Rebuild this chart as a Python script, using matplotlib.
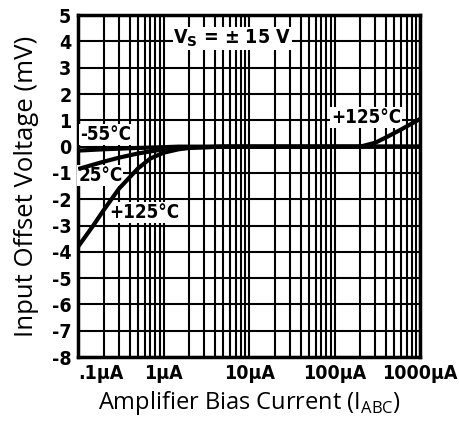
import numpy as np
import matplotlib.pyplot as plt
from matplotlib.ticker import LogLocator, NullFormatter

# data
cur_m55 = [0.1, 0.2, 0.5, 1, 1.5, 3, 1000]
vos_m55 = [-0.15, -0.1, -0.05, -0.02, 0, 0, 0]

cur_25 = [0.1, 0.2, 0.3, 0.5, 1, 2, 5, 1000]
vos_25 = [-0.85, -0.57, -0.42, -0.26, -0.1, -0.03, 0, 0]

cur_125 = [0.1, 0.15, 0.2, 0.3, 0.5, 0.7, 1, 1.5, 2, 5, 100, 200, 300, 400, 600, 1000]
vos_125 = [-3.8, -3.0, -2.4, -1.6, -0.83, -0.45, -0.23, -0.1, -0.05, 0, 0, 0, 0.15, 0.35, 0.65, 1.05]

xticks = [0.1, 1, 10, 100, 1000]
xlabels = [".1\u03bcA", "1\u03bcA", "10\u03bcA", "100\u03bcA", "1000\u03bcA"]
yticks = list(range(-8, 6))

tick_font = ["DejaVu Sans"]
label_font = ["Open Sans", "DejaVu Sans"]

fig = plt.figure(figsize=(4.6, 4.21), dpi=100)
ax = fig.add_axes([0.17, 0.152, 0.743, 0.812])

ax.set_xscale("log")
ax.set_xlim(0.1, 1000)
ax.set_ylim(-8, 5)

ax.xaxis.set_minor_locator(LogLocator(base=10, subs=np.arange(2, 10)))
ax.xaxis.set_minor_formatter(NullFormatter())
ax.set_xticks(xticks)
ax.set_xticklabels(xlabels)
ax.set_yticks(yticks)
ax.set_yticklabels([str(v) for v in yticks])

ax.grid(True, which="both", axis="x", color="black", lw=1.5)
ax.grid(True, which="major", axis="y", color="black", lw=1.5)
ax.tick_params(which="both", length=0, pad=5)
for t in ax.get_xticklabels() + ax.get_yticklabels():
    t.set_family(tick_font)
    t.set_fontweight("bold")
    t.set_fontstretch("condensed")
    t.set_fontsize(14)
ax.get_xticklabels()[0].set_ha("left")
for s in ax.spines.values():
    s.set_linewidth(2.5)

ax.plot(cur_m55, vos_m55, color="black", lw=3, solid_capstyle="butt", zorder=4)
ax.plot(cur_25, vos_25, color="black", lw=3, solid_capstyle="butt", zorder=4)
ax.plot(cur_125, vos_125, color="black", lw=3, solid_capstyle="butt", zorder=4)

lab = dict(family=tick_font, fontweight="bold", fontstretch="condensed", fontsize=13.5,
           color="black", zorder=3,
           bbox=dict(facecolor="white", edgecolor="none", pad=0.5))
ax.text(0.105, 0.47, "-55\u00b0C", ha="left", va="center", **lab)
ax.text(0.1, -1.1, "25\u00b0C", ha="left", va="center", **lab)
ax.text(0.23, -2.5, "+125\u00b0C", ha="left", va="center", **lab)
ax.text(235, 1.1, "+125\u00b0C", ha="center", va="center", **lab)
vs = dict(lab)
vs["fontsize"] = 14
ax.text(1.3, 4.1, "V$_\\mathbf{S}$ = \u00b1 15 V", ha="left", va="center", **vs)

ax.set_ylabel("Input Offset Voltage (mV)", family=label_font, fontsize=18.5, labelpad=9)
ax.set_xlabel(r"Amplifier Bias Current (I$_{\mathregular{ABC}}$)", family=label_font,
              fontsize=17, labelpad=4)

fig.savefig("out.png", dpi=100)
